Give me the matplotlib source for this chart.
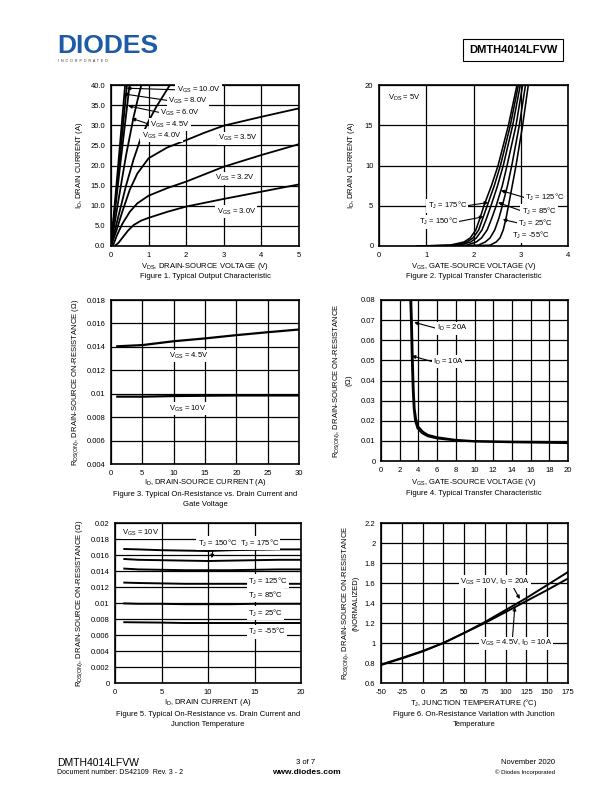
import matplotlib
matplotlib.use("Agg")
import matplotlib.pyplot as plt

# =====================================================
# FONTS / STYLE
# =====================================================

plt.rcParams['font.family'] = ['Liberation Sans', 'DejaVu Sans']
plt.rcParams['mathtext.fontset'] = 'custom'
plt.rcParams['mathtext.rm'] = 'Liberation Sans'
plt.rcParams['mathtext.it'] = 'Liberation Sans:italic'
plt.rcParams['mathtext.bf'] = 'Liberation Sans:bold'
plt.rcParams['axes.unicode_minus'] = False

FS = 5.5
LW = 1.3

# =====================================================
# DATA - FIGURE 1 (output characteristic)
# =====================================================

vds_100 = [0.0, 0.2, 0.38]
id_100 = [0.0, 21.0, 40.5]
vds_80 = [0.0, 0.2, 0.43]
id_80 = [0.0, 18.5, 40.5]
vds_60 = [0.0, 0.2, 0.4, 0.5]
id_60 = [0.0, 16.5, 32.5, 40.5]
vds_45 = [0.0, 0.2, 0.4, 0.6, 0.7, 0.82]
id_45 = [0.0, 11.5, 22.5, 32.0, 36.0, 40.5]
vds_40 = [0.0, 0.2, 0.4, 0.6, 0.8, 1.0, 1.2, 1.4, 1.6]
id_40 = [0.0, 7.5, 15.0, 21.5, 27.0, 31.0, 34.5, 37.5, 40.5]
vds_35 = [0.0, 0.15, 0.3, 0.5, 0.7, 1.0, 1.5, 2.0, 2.5, 3.0, 4.0, 5.0]
id_35 = [0.0, 4.0, 8.5, 14.0, 18.0, 21.8, 24.5, 26.3, 28.2, 29.9, 32.1, 34.2]
vds_32 = [0.05, 0.15, 0.3, 0.5, 0.7, 1.0, 1.5, 2.0, 3.0, 4.0, 5.0]
id_32 = [0.0, 2.5, 5.5, 8.5, 10.6, 12.5, 14.4, 16.0, 19.7, 22.6, 25.3]
vds_30 = [0.1, 0.2, 0.3, 0.45, 0.6, 0.8, 1.0, 1.5, 2.0, 3.0, 4.0, 5.0]
id_30 = [0.0, 0.8, 2.0, 3.8, 5.2, 6.3, 7.0, 8.5, 9.8, 11.7, 13.5, 15.3]

# =====================================================
# DATA - FIGURE 2 (transfer characteristic)
# =====================================================

id_tr = [0, 0.1, 0.5, 1, 2, 3.5, 5, 7.5, 10, 15, 20, 21]
vgs_175 = [0.8, 1.5, 1.8, 1.93, 2.05, 2.14, 2.22, 2.38, 2.52, 2.74, 2.92, 2.955]
vgs_150 = [0.9, 1.6, 1.86, 1.99, 2.11, 2.2, 2.29, 2.44, 2.57, 2.78, 2.95, 2.985]
vgs_125 = [1.0, 1.7, 1.94, 2.06, 2.18, 2.28, 2.37, 2.51, 2.63, 2.83, 2.99, 3.02]
vgs_85 = [1.2, 1.85, 2.06, 2.17, 2.29, 2.39, 2.48, 2.61, 2.71, 2.9, 3.04, 3.07]
vgs_25 = [1.5, 2.1, 2.25, 2.35, 2.45, 2.54, 2.61, 2.72, 2.81, 2.97, 3.1, 3.125]
vgs_m55 = [1.8, 2.35, 2.48, 2.56, 2.63, 2.69, 2.74, 2.82, 2.9, 3.04, 3.16, 3.185]

# =====================================================
# DATA - FIGURE 3 (RDS(on) vs ID, VGS)
# =====================================================

id_f3 = [1, 5, 10, 15, 20, 25, 30]
rds_45 = [0.01405, 0.01415, 0.01448, 0.01472, 0.0150, 0.01525, 0.01548]
rds_10 = [0.00975, 0.00975, 0.0098, 0.00983, 0.00985, 0.00985, 0.00985]

# =====================================================
# DATA - FIGURE 4 (RDS(on) vs VGS)
# =====================================================

vgs_20a = [3.2, 3.3, 3.4, 3.5, 3.6, 3.75, 4.0, 4.5, 5, 6, 8, 10, 14, 20]
rds_20a = [0.085, 0.07, 0.05, 0.035, 0.026, 0.021, 0.017, 0.0145, 0.013,
           0.0118, 0.0105, 0.0099, 0.0096, 0.0094]
vgs_10a = [3.1, 3.2, 3.3, 3.4, 3.5, 3.65, 3.9, 4.4, 5, 6, 8, 10, 14, 20]
rds_10a = [0.085, 0.07, 0.05, 0.035, 0.026, 0.020, 0.0162, 0.0138, 0.0123,
           0.0112, 0.0102, 0.0097, 0.0093, 0.0089]

# =====================================================
# DATA - FIGURE 5 (RDS(on) vs ID, TJ)
# =====================================================

id_f5 = [1, 2.5, 5, 7.5, 10, 12.5, 15, 17.5, 20]
r_175 = [0.01675, 0.0167, 0.0166, 0.01655, 0.0165, 0.0166, 0.01665, 0.0167, 0.0167]
r_150 = [0.0155, 0.0154, 0.01535, 0.0153, 0.01525, 0.0153, 0.01535, 0.0154, 0.0154]
r_125 = [0.0143, 0.0142, 0.01415, 0.0141, 0.0141, 0.0141, 0.01415, 0.0142, 0.0142]
r_85 = [0.01255, 0.0125, 0.01245, 0.0124, 0.0124, 0.0124, 0.0124, 0.0124, 0.0124]
r_25 = [0.00995, 0.0099, 0.0099, 0.00985, 0.00985, 0.00985, 0.0099, 0.0099, 0.0099]
r_m55 = [0.0076, 0.00758, 0.00755, 0.0075, 0.0075, 0.0075, 0.0075, 0.0075, 0.0075]

# =====================================================
# DATA - FIGURE 6 (normalized RDS(on) vs TJ)
# =====================================================

tj = [-50, -25, 0, 25, 50, 75, 100, 125, 150, 175]
norm_10v = [0.785, 0.85, 0.92, 1.0, 1.1, 1.21, 1.33, 1.45, 1.58, 1.71]
norm_45v = [0.78, 0.845, 0.915, 1.0, 1.1, 1.2, 1.31, 1.42, 1.53, 1.645]

# =====================================================
# HELPERS
# =====================================================

W, H = 612, 792


def make_ax(fig, left, right, top, bottom):
    ax = fig.add_axes([left / W, 1 - bottom / H, (right - left) / W, (bottom - top) / H])
    ax.grid(True, color='black', linewidth=0.9)
    ax.set_axisbelow(True)
    ax.tick_params(length=0, pad=4, labelsize=FS)
    for s in ax.spines.values():
        s.set_linewidth(1.2)
    return ax


def label(ax, x, y, s, ha='left'):
    ax.text(x, y, s, fontsize=FS, ha=ha, va='center', zorder=5,
            bbox=dict(facecolor='white', edgecolor='none', pad=1.0))


def arrow(ax, tip, tail):
    ax.annotate('', xy=tip, xytext=tail, zorder=4,
                arrowprops=dict(arrowstyle='-|>', color='black', lw=0.8,
                                mutation_scale=5, shrinkA=0, shrinkB=0))


def caption(fig, x, y, s):
    fig.text(x / W, 1 - y / H, s, fontsize=FS, ha='center', va='center',
             linespacing=1.6)


fig = plt.figure(figsize=(6.12, 7.92), dpi=100)

# =====================================================
# HEADER / FOOTER
# =====================================================

fig.text(57 / W, 1 - 46 / H, 'DIODES', fontsize=19, fontweight='bold',
         color='#1d5ba6', ha='left', va='center')
fig.text(58 / W, 1 - 61 / H, 'I  N  C  O  R  P  O  R  A  T  E  D', fontsize=2.6,
         color='#333333', ha='left', va='center')
fig.text(513 / W, 1 - 50 / H, 'DMTH4014LFVW', fontsize=8, fontweight='bold',
         ha='center', va='center',
         bbox=dict(facecolor='white', edgecolor='black', linewidth=0.8,
                   boxstyle='square,pad=0.55'))

fig.text(57 / W, 1 - 763 / H, 'DMTH4014LFVW', fontsize=7.5, ha='left', va='center')
fig.text(57 / W, 1 - 773 / H, 'Document number: DS42109  Rev. 3 - 2', fontsize=5,
         ha='left', va='center')
fig.text(306 / W, 1 - 763 / H, '3 of 7', fontsize=5.5, ha='center', va='center')
fig.text(306 / W, 1 - 773 / H, 'www.diodes.com', fontsize=6, fontweight='bold',
         ha='center', va='center')
fig.text(555 / W, 1 - 763 / H, 'November 2020', fontsize=5.5, ha='right', va='center')
fig.text(555 / W, 1 - 772 / H, '\u00a9 Diodes Incorporated', fontsize=4.3,
         ha='right', va='center')

# =====================================================
# FIGURE 1
# =====================================================

ax1 = make_ax(fig, 111, 299, 85, 246)
for xs, ys in [(vds_100, id_100), (vds_80, id_80), (vds_60, id_60), (vds_45, id_45),
               (vds_40, id_40), (vds_35, id_35), (vds_32, id_32), (vds_30, id_30)]:
    ax1.plot(xs, ys, color='black', lw=LW)
ax1.set_xlim(0, 5)
ax1.set_ylim(0, 40)
ax1.set_xticks(range(0, 6))
ax1.set_yticks([0, 5, 10, 15, 20, 25, 30, 35, 40])
ax1.set_yticklabels(['%.1f' % v for v in ax1.get_yticks()])
ax1.set_ylabel(r'I$_{\rm D}$, DRAIN CURRENT (A)', fontsize=FS, labelpad=4)
arrow(ax1, (0.42, 39.2), (1.78, 38.8))
arrow(ax1, (0.33, 37.8), (1.55, 36.1))
arrow(ax1, (0.46, 34.8), (1.33, 33.1))
arrow(ax1, (0.55, 31.7), (1.07, 30.1))
label(ax1, 1.75, 38.8, r'V$_{\rm GS}$ = 10.0V')
label(ax1, 1.52, 36.1, r'V$_{\rm GS}$ = 8.0V')
label(ax1, 1.30, 33.1, r'V$_{\rm GS}$ = 6.0V')
label(ax1, 1.04, 30.1, r'V$_{\rm GS}$ = 4.5V')
label(ax1, 0.82, 27.4, r'V$_{\rm GS}$ = 4.0V')
label(ax1, 2.85, 26.8, r'V$_{\rm GS}$ = 3.5V')
label(ax1, 2.77, 16.8, r'V$_{\rm GS}$ = 3.2V')
label(ax1, 2.81, 8.5, r'V$_{\rm GS}$ = 3.0V')
caption(fig, 205, 267, r'V$_{\rm DS}$, DRAIN-SOURCE VOLTAGE (V)')
caption(fig, 205, 277, 'Figure 1. Typical Output Characteristic')

# =====================================================
# FIGURE 2
# =====================================================

ax2 = make_ax(fig, 379, 568, 85, 246)
for xs in [vgs_175, vgs_150, vgs_125, vgs_85, vgs_25, vgs_m55]:
    ax2.plot(xs, id_tr, color='black', lw=1.15)
ax2.set_xlim(0, 4)
ax2.set_ylim(0, 20)
ax2.set_xticks(range(0, 5))
ax2.set_yticks([0, 5, 10, 15, 20])
ax2.set_ylabel(r'I$_{\rm D}$, DRAIN CURRENT (A)', fontsize=FS, labelpad=6)
label(ax2, 0.2, 18.4, r'V$_{\rm DS}$ = 5V')
arrow(ax2, (2.58, 6.9), (3.09, 6.0))
arrow(ax2, (2.52, 5.4), (3.02, 4.35))
arrow(ax2, (2.62, 3.3), (2.94, 2.86))
arrow(ax2, (2.31, 5.4), (1.86, 5.0))
arrow(ax2, (2.21, 3.64), (1.67, 3.02))
label(ax2, 3.09, 6.0, r'T$_{\rm J}$ = 125$\degree$C')
label(ax2, 3.02, 4.35, r'T$_{\rm J}$ = 85$\degree$C')
label(ax2, 2.94, 2.86, r'T$_{\rm J}$ = 25$\degree$C')
label(ax2, 2.81, 1.28, r'T$_{\rm J}$ = -55$\degree$C')
label(ax2, 1.86, 5.0, r'T$_{\rm J}$ = 175$\degree$C', ha='right')
label(ax2, 1.67, 3.02, r'T$_{\rm J}$ = 150$\degree$C', ha='right')
caption(fig, 474, 267, r'V$_{\rm GS}$, GATE-SOURCE VOLTAGE (V)')
caption(fig, 474, 277, 'Figure 2. Typical Transfer Characteristic')

# =====================================================
# FIGURE 3
# =====================================================

ax3 = make_ax(fig, 111, 299, 300, 464)
ax3.plot(id_f3, rds_45, color='black', lw=1.6)
ax3.plot(id_f3, rds_10, color='black', lw=1.6)
ax3.set_xlim(0, 30)
ax3.set_ylim(0.004, 0.018)
ax3.set_xticks(range(0, 31, 5))
ax3.set_yticks([0.004, 0.006, 0.008, 0.01, 0.012, 0.014, 0.016, 0.018])
ax3.set_yticklabels(['%g' % v for v in ax3.get_yticks()])
ax3.set_ylabel(r'R$_{\rm DS(ON)}$, DRAIN-SOURCE ON-RESISTANCE ($\Omega$)',
               fontsize=FS, labelpad=4)
label(ax3, 12.4, 0.01322, r'V$_{\rm GS}$ = 4.5V', ha='center')
label(ax3, 12.3, 0.0087, r'V$_{\rm GS}$ = 10V', ha='center')
caption(fig, 205, 483, r'I$_{\rm D}$, DRAIN-SOURCE CURRENT (A)')
caption(fig, 205, 500, 'Figure 3. Typical On-Resistance vs. Drain Current and\nGate Voltage')

# =====================================================
# FIGURE 4
# =====================================================

ax4 = make_ax(fig, 381, 568, 300, 461)
ax4.plot(vgs_20a, rds_20a, color='black', lw=1.4)
ax4.plot(vgs_10a, rds_10a, color='black', lw=1.4)
ax4.set_xlim(0, 20)
ax4.set_ylim(0, 0.08)
ax4.set_xticks(range(0, 21, 2))
ax4.set_yticks([0, 0.01, 0.02, 0.03, 0.04, 0.05, 0.06, 0.07, 0.08])
ax4.set_yticklabels(['%g' % v for v in ax4.get_yticks()])
ax4.set_ylabel('R$_{\\rm DS(ON)}$, DRAIN-SOURCE ON-RESISTANCE\n($\\Omega$)',
               fontsize=FS, labelpad=4, linespacing=1.3)
arrow(ax4, (3.55, 0.0689), (5.95, 0.0659))
arrow(ax4, (3.3, 0.0522), (5.56, 0.0493))
label(ax4, 5.95, 0.0659, r'I$_{\rm D}$ = 20A')
label(ax4, 5.56, 0.0493, r'I$_{\rm D}$ = 10A')
caption(fig, 474, 483, r'V$_{\rm GS}$, GATE-SOURCE VOLTAGE (V)')
caption(fig, 474, 493, 'Figure 4. Typical Transfer Characteristic')

# =====================================================
# FIGURE 5
# =====================================================

ax5 = make_ax(fig, 115, 301, 523, 683)
for ys in [r_175, r_150, r_125, r_85, r_25, r_m55]:
    ax5.plot(id_f5, ys, color='black', lw=1.4)
ax5.set_xlim(0, 20)
ax5.set_ylim(0, 0.02)
ax5.set_xticks(range(0, 21, 5))
ax5.set_yticks([0, 0.002, 0.004, 0.006, 0.008, 0.01, 0.012, 0.014, 0.016, 0.018, 0.02])
ax5.set_yticklabels(['%g' % v for v in ax5.get_yticks()])
ax5.set_ylabel(r'R$_{\rm DS(ON)}$, DRAIN-SOURCE ON-RESISTANCE ($\Omega$)',
               fontsize=FS, labelpad=4)
label(ax5, 0.8, 0.0188, r'V$_{\rm GS}$ = 10V')
arrow(ax5, (10.4, 0.0156), (10.6, 0.0172))
label(ax5, 8.9, 0.01746, r'T$_{\rm J}$ = 150$\degree$C')
label(ax5, 13.4, 0.01746, r'T$_{\rm J}$ = 175$\degree$C')
label(ax5, 14.3, 0.01275, r'T$_{\rm J}$ = 125$\degree$C')
label(ax5, 14.3, 0.0110, r'T$_{\rm J}$ = 85$\degree$C')
label(ax5, 14.3, 0.0087, r'T$_{\rm J}$ = 25$\degree$C')
label(ax5, 14.3, 0.0064, r'T$_{\rm J}$ = -55$\degree$C')
caption(fig, 208, 703, r'I$_{\rm D}$, DRAIN CURRENT (A)')
caption(fig, 208, 720, 'Figure 5. Typical On-Resistance vs. Drain Current and\nJunction Temperature')

# =====================================================
# FIGURE 6
# =====================================================

ax6 = make_ax(fig, 381, 568, 523, 683)
ax6.plot(tj, norm_10v, color='black', lw=1.4)
ax6.plot(tj, norm_45v, color='black', lw=1.4)
ax6.set_xlim(-50, 175)
ax6.set_ylim(0.6, 2.2)
ax6.set_xticks(range(-50, 176, 25))
ax6.set_yticks([0.6, 0.8, 1.0, 1.2, 1.4, 1.6, 1.8, 2.0, 2.2])
ax6.set_yticklabels(['%g' % v for v in ax6.get_yticks()])
ax6.set_ylabel('R$_{\\rm DS(ON)}$, DRAIN-SOURCE ON-RESISTANCE\n(NORMALIZED)',
               fontsize=FS, labelpad=4, linespacing=1.3)
arrow(ax6, (117, 1.44), (107, 1.59))
arrow(ax6, (111, 1.36), (108, 1.03))
label(ax6, 45, 1.613, r'V$_{\rm GS}$ = 10V, I$_{\rm D}$ = 20A')
label(ax6, 69, 0.997, r'V$_{\rm GS}$ = 4.5V, I$_{\rm D}$ = 10A')
caption(fig, 474, 703, r'T$_{\rm J}$, JUNCTION TEMPERATURE ($\degree$C)')
caption(fig, 474, 720, 'Figure 6. On-Resistance Variation with Junction\nTemperature')

fig.savefig('out.png', dpi=100)
